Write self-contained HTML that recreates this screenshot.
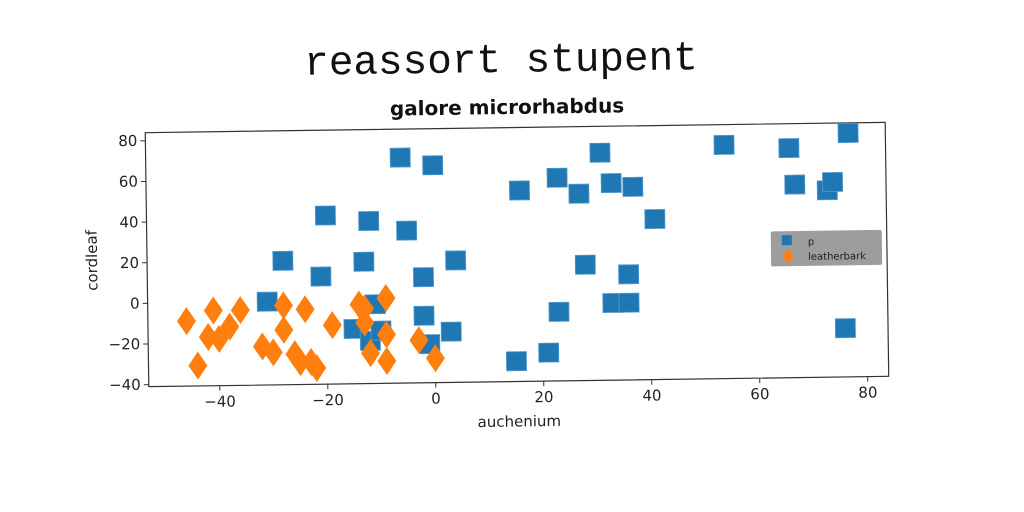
<!DOCTYPE html>
<html><head><meta charset="utf-8"><style>
html,body{margin:0;padding:0;background:#fff;width:1024px;height:512px;overflow:hidden}
svg{display:block}
text{font-family:"DejaVu Sans","Liberation Sans",sans-serif}
</style></head><body>
<svg id="chart" width="1024" height="512" viewBox="0 0 1024 512" xmlns="http://www.w3.org/2000/svg">
<text x="501" y="72" text-anchor="middle" transform="rotate(-0.8 500 60)" style="font-family:'Liberation Mono',monospace;font-size:41px" fill="#111">reassort stupent</text>
<text x="507" y="114" text-anchor="middle" transform="rotate(-0.8 507 106)" style="font-size:20px;font-weight:bold" fill="#111">galore microrhabdus</text>
<g id="plot" transform="rotate(-0.8 517 255)"></g>
</svg>
<script>
const blueX=[-6,0,-20,-12,-5,-28,-21,-13,-2,4,-31,-11,-2,-15,-12,-10,-1,3,15,21,16,23,27,31,33,37,41,28,36,33,36,23,54,66,67,73,74,77,76];
const blueY=[70,66,42,39,34,20,12,19,11,19,0,-2,-8,-14,-20,-15,-22,-16,-31,-27,53,59,51,71,56,54,38,16,11,-3,-3,-7,74,72,54,51,55,79,-17];
const orangeX=[-46,-42,-41,-38,-36,-40,-44,-32,-30,-28,-28,-26,-25,-24,-22,-23,-19,-14,-13,-9,-9,-12,-9,-3,0,-13];
const orangeY=[-9,-17,-4,-12,-4,-18,-31,-22,-25,-2,-14,-26,-30,-4,-33,-30,-12,-2,-11,1,-17,-26,-30,-20,-29,-4];
const xTicks=[-40,-20,0,20,40,60,80];
const yTicks=[-40,-20,0,20,40,60,80];
const L=147,R=887,T=127.5,B=381.5;
const X0=-53.15,X1=83.9,Y0=-41,Y1=84;
const sx=v=>L+(v-X0)/(X1-X0)*(R-L);
const sy=v=>B-(v-Y0)/(Y1-Y0)*(B-T);
const NS="http://www.w3.org/2000/svg";
const g=document.getElementById('plot');
function mk(tag,attrs){const e=document.createElementNS(NS,tag);for(const k in attrs)e.setAttribute(k,attrs[k]);g.appendChild(e);return e;}
let fr=mk('rect',{x:L,y:T,width:R-L,height:B-T,fill:'none',stroke:'#333','stroke-width':1.2});


xTicks.forEach(v=>{
 let l=mk('line',{x1:sx(v),x2:sx(v),y1:B,y2:B+5,stroke:'#333'});
 
 
 let t=mk('text',{x:sx(v),y:B+21,'text-anchor':'middle','font-size':15,fill:'#222'});
 t.textContent=v<0?'\u2212'+(-v):String(v);
 
 
});
yTicks.forEach(v=>{
 let l=mk('line',{x1:L-5,x2:L,y1:sy(v),y2:sy(v),stroke:'#333'});
 
 
 let t=mk('text',{x:L-8,y:sy(v)+5,'text-anchor':'end','font-size':15,fill:'#222'});
 t.textContent=v<0?'\u2212'+(-v):String(v);
 
 
});
let xt=mk('text',{x:(L+R)/2,y:B+45,'text-anchor':'middle','font-size':15,fill:'#222'});
xt.textContent='auchenium';


let yt=mk('text',{x:0,y:0,'text-anchor':'middle','font-size':15,fill:'#222',transform:`translate(${L-50},${(T+B)/2}) rotate(-90)`});
yt.textContent='cordleaf';


blueX.forEach((v,i)=>{
 let r=mk('rect',{x:sx(v)-10,y:sy(blueY[i])-9.5,width:20,height:19,fill:'#1f77b4',stroke:'#5a9ccc','stroke-width':0.8});
 
 
});
orangeX.forEach((v,i)=>{
 const cx=sx(v),cy=sy(orangeY[i]);
 let p=mk('polygon',{points:`${cx},${cy-14} ${cx+9.5},${cy} ${cx},${cy+14} ${cx-9.5},${cy}`,fill:'#ff7f0e'});
 
 
});
let lg=mk('rect',{x:771,y:235,width:111,height:35,rx:2,fill:'#8c8c8c','fill-opacity':0.85});


let ls=mk('rect',{x:782,y:239,width:10,height:10,fill:'#1f77b4'});


let lt1=mk('text',{x:808,y:249,'font-size':10,fill:'#222'});
lt1.textContent='p';


let ld=mk('polygon',{points:'788,253 794,260 788,267 782,260',fill:'#ff7f0e'});


let lt2=mk('text',{x:808,y:264,'font-size':10,fill:'#222'});
lt2.textContent='leatherbark';


</script>
</body></html>
